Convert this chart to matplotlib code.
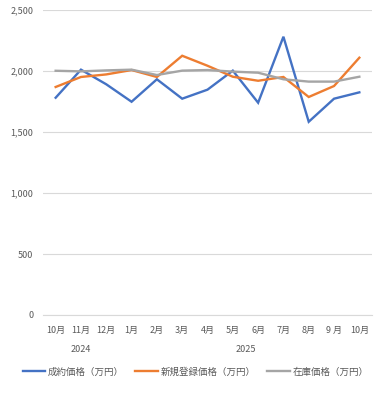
import matplotlib
matplotlib.use("Agg")
import matplotlib.pyplot as plt
from matplotlib.ticker import FuncFormatter
import matplotlib.transforms as mtransforms

plt.rcParams['font.family'] = ['Noto Sans CJK JP', 'DejaVu Sans']

months = ["10月", "11月", "12月", "1月", "2月", "3月", "4月", "5月", "6月", "7月", "8月", "9 月", "10月"]
years = ["2024", "2025"]
year_spans = [(0, 2), (3, 12)]

contract = [1781, 2011, 1891, 1748, 1932, 1773, 1847, 2003, 1740, 2281, 1584, 1773, 1825]
new_listing = [1869, 1951, 1972, 2008, 1951, 2125, 2043, 1953, 1920, 1951, 1787, 1877, 2109]
inventory = [2002, 1997, 2005, 2011, 1967, 2003, 2008, 1995, 1986, 1932, 1913, 1913, 1953]

series_names = ["成約価格（万円）", "新規登録価格（万円）", "在庫価格（万円）"]
colors = ["#4472C4", "#ED7D31", "#A5A5A5"]

fig = plt.figure(figsize=(3.91, 3.93), dpi=100)
ax = fig.add_axes([43/391, 1-315/393, (372-43)/391, (315-10)/393])

x = list(range(len(months)))
lines = []
for data, name, c in zip([contract, new_listing, inventory], series_names, colors):
    l, = ax.plot(x, data, color=c, lw=1.7, label=name, solid_joinstyle='miter')
    lines.append(l)

ax.set_xlim(-0.5, len(months) - 0.5)
ax.set_ylim(0, 2500)
ax.set_yticks([0, 500, 1000, 1500, 2000, 2500])
ax.yaxis.set_major_formatter(FuncFormatter(lambda v, p: f"{int(v):,}"))
ax.grid(axis='y', color='#D9D9D9', lw=0.8)
ax.set_axisbelow(True)
for s in ['top', 'right', 'left']:
    ax.spines[s].set_visible(False)
ax.spines['bottom'].set_color('#D9D9D9')
ax.spines['bottom'].set_linewidth(0.8)

ax.set_xticks(x)
ax.set_xticklabels(months)
ax.tick_params(axis='both', length=0, labelsize=6.5, colors='#595959')
ax.tick_params(axis='x', pad=8)
ax.tick_params(axis='y', pad=7)

trans = mtransforms.blended_transform_factory(ax.transData, fig.transFigure)
for yr, (a, b) in zip(years, year_spans):
    ax.text((a + b) / 2, 1 - 350/393, yr, transform=trans, ha='center', va='center',
            fontsize=6.5, color='#595959')

fig.legend(handles=lines, loc='center', bbox_to_anchor=(0.5, 1 - 372/393), ncol=3,
           frameon=False, fontsize=6.8, labelcolor='#595959', handlelength=2.4,
           handletextpad=0.25, columnspacing=1.25)

fig.savefig("out.png", dpi=100)
